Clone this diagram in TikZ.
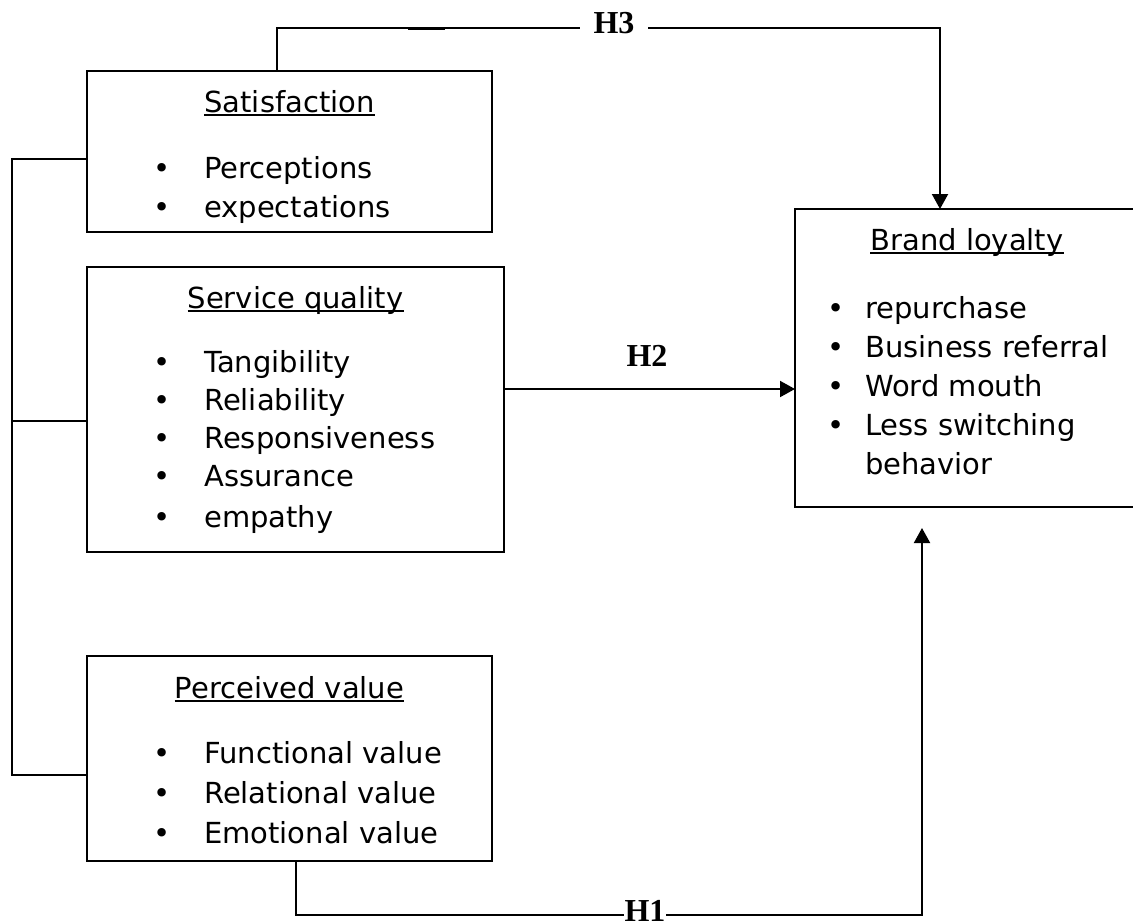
\documentclass[tikz,border=0pt]{standalone}
\usepackage{fontspec}
\setmainfont{DejaVu Sans}
\newfontfamily\hfont{Liberation Serif}
\usetikzlibrary{arrows.meta}
\begin{document}
\begin{tikzpicture}[x=1pt,y=-1pt,
  box/.style={draw, line width=2pt, inner sep=0pt, outer sep=0pt, anchor=north west},
  txt/.style={inner sep=0pt, anchor=base west, font=\fontsize{29}{35}\selectfont},
  ttl/.style={inner sep=0pt, anchor=base, font=\fontsize{29}{35}\selectfont},
  bul/.style={inner sep=0pt, anchor=base, font=\fontsize{29}{35}\selectfont},
  hlab/.style={inner sep=1pt, anchor=base, fill=white, font=\hfont\bfseries\fontsize{32}{38}\selectfont},
  conn/.style={line width=2pt},
  arr/.style={conn, -{Triangle[length=15pt,width=16pt]}},
  uline/.style={line width=2pt}]
\useasboundingbox (0,0) rectangle (1133,921);
% boxes
\node[box, minimum width=405pt, minimum height=161pt] (sat) at (87,71) {};
\node[box, minimum width=417pt, minimum height=285pt] (svc) at (87,267) {};
\node[box, minimum width=405pt, minimum height=205pt] (pv) at (87,656) {};
\node[box, minimum width=345pt, minimum height=298pt] (bl) at (795,209) {};
% titles
\node[ttl] (satT) at (289.5,112) {Satisfaction};
\node[ttl] (svcT) at (295.5,308) {Service quality};
\node[ttl] (pvT) at (289.5,698) {Perceived value};
\node[ttl] (blT) at (967,250) {Brand loyalty};
\foreach \n in {satT,svcT,pvT,blT}
  \draw[uline] ([yshift=-3pt]\n.base west) -- ([yshift=-3pt]\n.base east);
% items
\foreach \t/\y [count=\i] in {Perceptions/178, expectations/217} {
  \node[bul] (satb\i) at (162,\y) {•};
  \node[txt] (sat\i) at (204,\y) {\t};
}
\foreach \t/\y [count=\i] in {Tangibility/372, Reliability/410, Responsiveness/448, Assurance/486, empathy/527} {
  \node[bul] (svcb\i) at (162,\y) {•};
  \node[txt] (svc\i) at (204,\y) {\t};
}
\foreach \t/\y [count=\i] in {Functional value/763, Relational value/803, Emotional value/843} {
  \node[bul] (pvb\i) at (162,\y) {•};
  \node[txt] (pv\i) at (204,\y) {\t};
}
\foreach \t/\y [count=\i] in {repurchase/318, Business referral/357, Word mouth/396, Less switching/435} {
  \node[bul] (blb\i) at (836,\y) {•};
  \node[txt] (bl\i) at (865,\y) {\t};
}
\node[txt] (bl5) at (865,474) {behavior};
% left bracket
\draw[conn] ([yshift=-88pt]sat.north west) -- ++(-75,0) |- ([yshift=-119pt]pv.north west);
\draw[conn] ([yshift=-154pt]svc.north west) -- ++(-75,0);
% H3
\draw[arr] ([xshift=190pt]sat.north west) -- ++(0,-43) -| ([xshift=145pt]bl.north west);
\draw[line width=3pt] (408,28) -- (445,28);
\node[hlab, inner xsep=14pt] (h3) at (614,33) {H3};
% H2
\path ([yshift=-122pt]svc.north east) coordinate (h2a);
\draw[arr] (h2a) -- (h2a -| bl.west);
\node[hlab, fill=none] (h2) at (647,366) {H2};
% H1
\draw[arr] ([xshift=209pt]pv.south west) -- ++(0,54) -| ([xshift=127pt,yshift=-21pt]bl.south west);
\node[hlab] (h1) at (645,921) {H1};
\end{tikzpicture}
\end{document}
